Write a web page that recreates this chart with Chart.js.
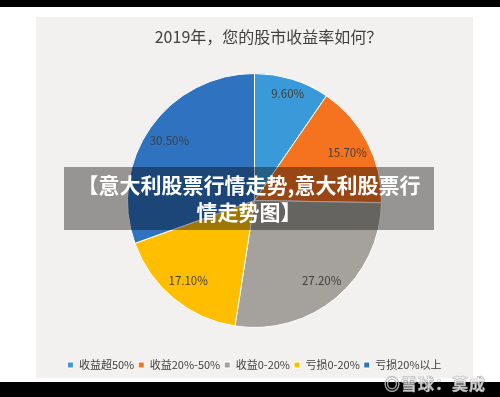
<!DOCTYPE html>
<html>
<head>
<meta charset="utf-8">
<script src="https://cdn.jsdelivr.net/npm/chart.js@4"></script>
<style>
  html, body { margin: 0; padding: 0; background: #fff; }
  body { width: 500px; height: 397px; position: relative; overflow: hidden; font-family: "Noto Sans CJK SC", sans-serif; }
  .bar { position: absolute; left: 0; width: 500px; background: #000; }
  #panel { position: absolute; left: 36px; top: 17px; width: 437px; height: 361px; background: #f2f1ef; }
  #overlay { position: absolute; left: 64px; top: 167px; width: 370px; height: 63px; background: rgba(0,0,0,0.38);
    color: #fff; font-weight: bold; font-size: 21px; line-height: 27px; text-align: center; padding-top: 4px; box-sizing: border-box; }
  #mark { position: absolute; right: 14px; top: 371px; font-size: 16px; font-weight: bold; color: rgba(255,255,255,0.8);
    -webkit-text-stroke: 0.5px #a8a8a8; letter-spacing: 1px; }
</style>
</head>
<body>
<div class="bar" style="top:0;height:7px"></div>
<div id="panel"><canvas id="pie" width="437" height="361"></canvas></div>
<div class="bar" style="top:382px;height:15px"></div>
<div id="overlay">【意大利股票行情走势,意大利股票行<br>情走势图】</div>
<div id="mark">◎雪球：莫成</div>
<script>
  const chartTitle = '2019年，您的股市收益率如何？';
  const categories = ['收益超50%', '收益20%-50%', '收益0-20%', '亏损0-20%', '亏损20%以上'];
  const shares = [9.6, 15.7, 27.2, 17.1, 30.5];
  const sliceColors = ['#3a9ad9', '#f5721f', '#a5a29d', '#ffbf00', '#2e72c0'];

  // title sits a bit right of the pie centre in the original
  const titleText = {
    id: 'titleText',
    afterDraw(chart) {
      const ctx = chart.ctx;
      ctx.save();
      ctx.font = '16px "Noto Sans CJK SC", sans-serif';
      ctx.fillStyle = '#404040';
      ctx.textAlign = 'center';
      ctx.textBaseline = 'middle';
      ctx.fillText(chartTitle, chart.width / 2 + 14, 20);
      ctx.restore();
    }
  };

  // percent labels inside each slice
  const sliceLabels = {
    id: 'sliceLabels',
    afterDatasetsDraw(chart) {
      const ctx = chart.ctx;
      const meta = chart.getDatasetMeta(0);
      ctx.save();
      ctx.font = '11.5px "Noto Sans CJK SC", sans-serif';
      ctx.fillStyle = '#404040';
      ctx.textAlign = 'center';
      ctx.textBaseline = 'middle';
      meta.data.forEach((arc, i) => {
        const mid = (arc.startAngle + arc.endAngle) / 2;
        const r = arc.outerRadius * (i === 0 ? 0.88 : 0.82);
        ctx.fillText(shares[i].toFixed(2) + '%', arc.x + Math.cos(mid) * r, arc.y + Math.sin(mid) * r);
      });
      ctx.restore();
    }
  };

  new Chart(document.getElementById('pie'), {
    type: 'pie',
    data: {
      labels: categories,
      datasets: [{
        data: shares,
        backgroundColor: sliceColors,
        borderColor: '#ffffff',
        borderWidth: 1
      }]
    },
    options: {
      responsive: false,
      animation: false,
      radius: 127,
      layout: { padding: { top: 28.5, bottom: -2.5, left: 0, right: 0 } },
      plugins: {
        title: { display: false },
        legend: {
          position: 'bottom',
          labels: {
            boxWidth: 6,
            boxHeight: 6,
            padding: 4,
            color: '#404040',
            font: { size: 11, family: '"Noto Sans CJK SC", sans-serif' }
          }
        },
        tooltip: { enabled: false }
      }
    },
    plugins: [sliceLabels, titleText]
  });
</script>
</body>
</html>
